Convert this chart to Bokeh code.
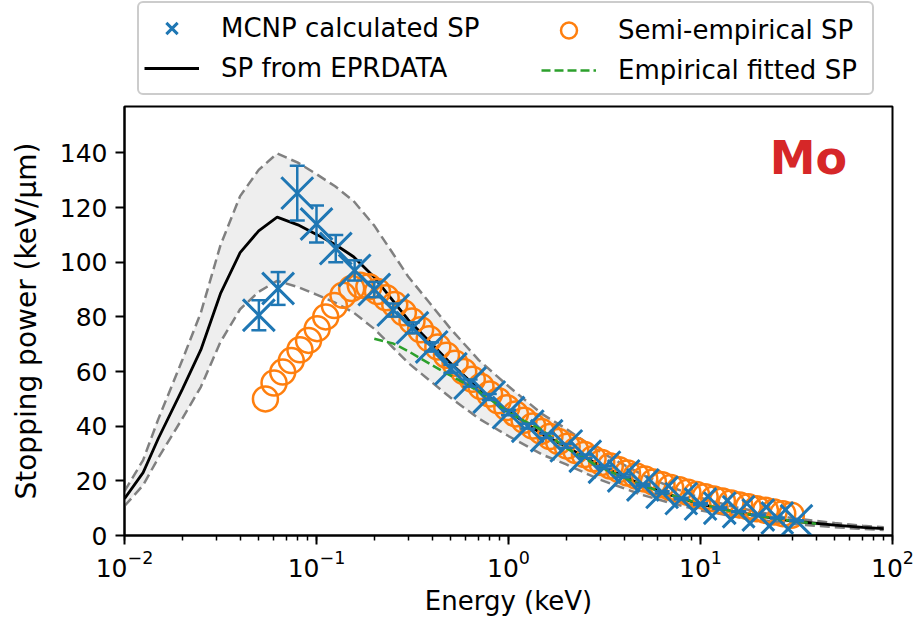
import numpy as np
from bokeh.plotting import figure
from bokeh.layouts import column
from bokeh.models import (ColumnDataSource, Whisker, TeeHead, Legend, LegendItem,
                          Label, FixedTicker, Range1d)
from bokeh.embed import file_html
from bokeh.resources import INLINE

# ---------------- data ----------------
# SP from EPRDATA (keV, keV/um)
epr_energy = [0.01, 0.0125, 0.015, 0.02, 0.025, 0.0316, 0.04, 0.05, 0.0624, 0.08, 0.1,
              0.125, 0.156, 0.2, 0.25, 0.3, 0.4, 0.5, 0.7, 1.0, 1.5, 2.0, 3.0, 5.0, 7.0,
              10.0, 15.0, 20.0, 30.0, 50.0, 70.0, 90.0]
epr_sp = [13.5, 23.0, 35.5, 53.5, 68.0, 88.5, 103.5, 111.5, 116.5, 113.7, 110.2,
          106.5, 102.0, 94.5, 86.0, 79.0, 70.0, 63.0, 53.5, 45.5, 37.0, 32.5, 25.5, 18.5, 14.8,
          11.5, 8.7, 7.2, 5.3, 3.8, 3.0, 2.5]
band_upper_factor = 1.2
band_lower_factor = 0.8

# MCNP calculated SP
mcnp_energy = [0.0501, 0.0631, 0.0794, 0.1, 0.126, 0.158, 0.2, 0.251, 0.316, 0.398,
               0.501, 0.631, 0.794, 1.0, 1.26, 1.58, 2.0, 2.51, 3.16, 3.98,
               5.01, 6.31, 7.94, 10.0, 12.6, 15.8, 20.0, 25.1, 31.6]
mcnp_sp = [80.6, 90.4, 125.3, 114.0, 105.0, 97.0, 90.0, 82.5, 76.0, 69.0,
           61.0, 55.8, 50.7, 45.0, 40.0, 36.5, 32.8, 29.0, 25.0, 21.8,
           18.5, 15.8, 13.5, 11.5, 10.0, 8.7, 7.5, 6.4, 5.4]
mcnp_err = [5.5, 6.0, 10.0, 6.8, 5.0, 3.7, 2.8, 2.4, 2.0, 1.7,
            1.5, 1.3, 1.1, 1.0, 0.9, 0.8, 0.7, 0.6, 0.5, 0.5,
            0.4, 0.4, 0.3, 0.3, 0.3, 0.2, 0.2, 0.2, 0.2]

# Semi-empirical SP
semi_energy = [0.0542, 0.0601, 0.0667, 0.0739, 0.0820, 0.0909, 0.1008, 0.1117, 0.1239, 0.1374,
               0.1524, 0.1690, 0.1874, 0.2078, 0.2305, 0.2556, 0.2834, 0.3143, 0.3485, 0.3864,
               0.4285, 0.4752, 0.5270, 0.5844, 0.6480, 0.7186, 0.7969, 0.8837, 0.9800, 1.0867,
               1.2051, 1.3364, 1.4820, 1.6434, 1.8225, 2.0210, 2.2411, 2.4853, 2.7561, 3.0563,
               3.3893, 3.7585, 4.1680, 4.6221, 5.1256, 5.6839, 6.3031, 6.9898, 7.7513, 8.5957,
               9.5321, 10.570, 11.722, 12.999, 14.415, 15.985, 17.727, 19.658, 21.799, 24.174,
               26.808, 29.728]
semi_sp = [50.0, 55.8, 59.8, 64.0, 68.0, 71.4, 75.7, 80.0, 84.2, 87.9,
           90.4, 91.6, 91.0, 89.3, 87.0, 84.5, 81.5, 78.5, 75.3, 72.0,
           69.0, 66.0, 63.0, 60.0, 57.2, 54.5, 51.8, 49.3, 46.8, 44.5,
           42.2, 40.1, 38.1, 36.2, 34.4, 32.7, 31.1, 29.6, 28.1, 26.7,
           25.4, 24.1, 22.9, 21.8, 20.7, 19.6, 18.6, 17.6, 16.7, 15.8,
           15.0, 14.2, 13.4, 12.6, 11.9, 11.2, 10.5, 9.8, 9.2, 8.6,
           8.0, 7.4]

# Empirical fitted SP
fit_energy = [0.2, 0.25, 0.3, 0.4, 0.5, 0.7, 1.0, 1.5, 2.0, 3.0, 5.0, 7.0, 10.0, 15.0,
              20.0, 30.0, 40.0]
fit_sp = [72.0, 70.3, 67.5, 62.3, 58.5, 52.8, 45.0, 38.5, 32.0, 25.0, 18.3, 14.8, 11.5, 8.7,
          7.2, 5.3, 4.3]

y_ticks = [0, 20, 40, 60, 80, 100, 120, 140]
element_label = "Mo"

FONT = "DejaVu Sans"
BLUE, ORANGE, GREEN, RED = "#1f77b4", "#ff7f0e", "#2ca02c", "#d62728"

upper = [v * band_upper_factor for v in epr_sp]
lower = [v * band_lower_factor for v in epr_sp]
band_src = ColumnDataSource(dict(x=epr_energy, y=epr_sp, up=upper, lo=lower))
semi_src = ColumnDataSource(dict(x=semi_energy, y=semi_sp))
mc_src = ColumnDataSource(dict(x=mcnp_energy, y=mcnp_sp,
                               up=[a + b for a, b in zip(mcnp_sp, mcnp_err)],
                               lo=[a - b for a, b in zip(mcnp_sp, mcnp_err)]))
fit_src = ColumnDataSource(dict(x=fit_energy, y=fit_sp))

# ---------------- main figure ----------------
p = figure(width=917, height=516, x_axis_type="log",
           x_range=Range1d(0.01, 100), y_range=Range1d(0, 157),
           output_backend="svg", toolbar_location=None,
           min_border_left=124, min_border_right=25,
           min_border_top=2, min_border_bottom=85,
           x_axis_label="Energy (keV)", y_axis_label="Stopping power (keV/μm)")
p.xgrid.visible = False
p.ygrid.visible = False
p.outline_line_color = "black"
p.outline_line_width = 2
p.outline_line_alpha = 1
p.background_fill_color = "white"
p.border_fill_color = "white"

for ax in (p.xaxis[0], p.yaxis[0]):
    ax.major_tick_out = 9
    ax.major_tick_in = 0
    ax.minor_tick_out = 5
    ax.minor_tick_in = 0
    ax.major_tick_line_width = 2
    ax.minor_tick_line_width = 1.5
    ax.axis_line_width = 2
    ax.major_label_text_font = FONT
    ax.major_label_text_font_size = "25px"
    ax.major_label_text_color = "black"
    ax.axis_label_text_font = FONT
    ax.axis_label_text_font_style = "normal"
    ax.axis_label_text_color = "black"
p.xaxis[0].axis_label_text_font_size = "26px"
p.yaxis[0].axis_label_text_font_size = "28px"
p.yaxis[0].ticker = FixedTicker(ticks=y_ticks)
p.yaxis[0].minor_tick_out = 0
p.yaxis[0].major_label_standoff = 8
p.yaxis[0].axis_label_standoff = 14
p.xaxis[0].major_label_standoff = 5
p.xaxis[0].axis_label_standoff = 6

# band
p.varea(x="x", y1="lo", y2="up", source=band_src, fill_color="#eeeeee")
p.line(x="x", y="up", source=band_src, line_color="gray", line_width=2.5, line_dash="10 5")
p.line(x="x", y="lo", source=band_src, line_color="gray", line_width=2.5, line_dash="10 5")
p.line(x="x", y="y", source=band_src, line_color="black", line_width=2.8)

# semi-empirical circles
p.scatter(x="x", y="y", source=semi_src, marker="circle", size=25,
          fill_color=None, line_color=ORANGE, line_width=2.5)

# MCNP with error bars
wh = Whisker(base="x", upper="up", lower="lo", source=mc_src, level="glyph",
             line_color=BLUE, line_width=2.5,
             upper_head=TeeHead(size=15, line_color=BLUE, line_width=2.5),
             lower_head=TeeHead(size=15, line_color=BLUE, line_width=2.5))
p.add_layout(wh)
p.scatter(x="x", y="y", source=mc_src, marker="x", size=45,
          line_color=BLUE, line_width=3)

# empirical fit
p.line(x="x", y="y", source=fit_src, line_color=GREEN, line_width=2.5, line_dash="9 4")

# element label
p.add_layout(Label(x=58, y=138, text=element_label, text_align="right",
                   text_baseline="alphabetic", text_font=FONT, text_font_style="bold",
                   text_font_size="46px", text_color=RED))

# ---------------- legend strip (same sources, ranges outside the data) ----------------
lf = figure(width=917, height=104, x_axis_type="log",
            x_range=Range1d(1e5, 1e6), y_range=Range1d(1e4, 2e4),
            output_backend="svg", toolbar_location=None,
            x_axis_location=None, y_axis_location=None,
            min_border_left=0, min_border_right=0, min_border_top=0, min_border_bottom=0)
lf.xgrid.visible = False
lf.ygrid.visible = False
lf.outline_line_alpha = 0
lf.background_fill_color = "white"
lf.border_fill_color = "white"

l_mc = lf.scatter(x="x", y="y", source=mc_src, marker="x", size=45, line_color=BLUE, line_width=3)
l_epr = lf.line(x="x", y="y", source=band_src, line_color="black", line_width=2.8)
l_semi = lf.scatter(x="x", y="y", source=semi_src, marker="circle", size=25,
                    fill_color=None, line_color=ORANGE, line_width=2.5)
l_fit = lf.line(x="x", y="y", source=fit_src, line_color=GREEN, line_width=2.5, line_dash="9 4")


def style_legend(lg):
    lg.label_text_font = FONT
    lg.label_text_font_size = "26px"
    lg.label_text_color = "black"
    lg.glyph_width = 55
    lg.glyph_height = 40
    lg.label_height = 40
    lg.label_standoff = 22
    lg.padding = 5
    lg.spacing = 0
    lg.margin = 0


# legend positions are relative to the strip's frame, which is aligned with the main frame
legend_a = Legend(items=[
    LegendItem(label="MCNP calculated SP", renderers=[l_mc]),
    LegendItem(label="SP from EPRDATA", renderers=[l_epr]),
], location=(13, 9))
style_legend(legend_a)
legend_a.label_width = 646
legend_a.border_line_color = "#cccccc"
legend_a.border_line_width = 2
legend_a.border_line_alpha = 1
legend_a.background_fill_alpha = 1
if "border_radius" in legend_a.properties():
    legend_a.border_radius = 6

legend_b = Legend(items=[
    LegendItem(label="Semi-empirical SP", renderers=[l_semi]),
    LegendItem(label="Empirical fitted SP", renderers=[l_fit]),
], location=(412, 9))
style_legend(legend_b)
legend_b.border_line_alpha = 0
legend_b.background_fill_alpha = 0

lf.add_layout(legend_a)
lf.add_layout(legend_b)

layout = column(lf, p, spacing=0)
open("out.html", "w").write(file_html(layout, INLINE))
